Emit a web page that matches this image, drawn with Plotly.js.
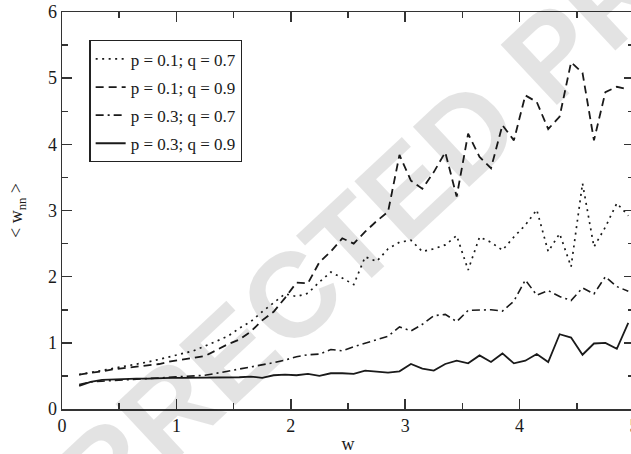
<!DOCTYPE html>
<html>
<head>
<meta charset="utf-8">
<script src="https://cdn.plot.ly/plotly-3.0.1.min.js"></script>
<style>
html,body{margin:0;padding:0;overflow:hidden;background:#fff;}
#chart{width:640px;height:454px;}
</style>
</head>
<body>
<div id="chart"></div>
<script>
// x positions of the samples
const w = [0.15,0.25,0.35,0.45,0.55,0.65,0.75,0.85,0.95,1.05,1.15,1.25,1.35,1.45,1.55,1.65,1.75,1.85,1.95,2.05,2.15,2.25,2.35,2.45,2.55,2.65,2.75,2.85,2.95,3.05,3.15,3.25,3.35,3.45,3.55,3.65,3.75,3.85,3.95,4.05,4.15,4.25,4.35,4.45,4.55,4.65,4.75,4.85,4.95];

// p = 0.1; q = 0.7 (dotted)
const p01q07 = [0.52,0.55,0.58,0.61,0.64,0.67,0.71,0.75,0.79,0.83,0.88,0.95,1.02,1.10,1.22,1.32,1.47,1.60,1.74,1.70,1.75,1.92,2.07,1.98,1.88,2.30,2.23,2.42,2.52,2.55,2.38,2.42,2.48,2.62,2.10,2.60,2.52,2.40,2.60,2.78,3.01,2.38,2.65,2.15,3.41,2.45,2.75,3.11,2.92];

// p = 0.1; q = 0.9 (dashed)
const p01q09 = [0.52,0.54,0.57,0.60,0.62,0.64,0.66,0.68,0.72,0.75,0.78,0.80,0.89,0.98,1.05,1.17,1.34,1.47,1.68,1.91,1.90,2.22,2.38,2.58,2.50,2.68,2.84,2.98,3.84,3.45,3.33,3.58,3.88,3.21,4.16,3.81,3.64,4.29,4.06,4.74,4.64,4.23,4.42,5.24,5.08,4.06,4.79,4.87,4.83];

// p = 0.3; q = 0.7 (dash-dot)
const p03q07 = [0.37,0.41,0.42,0.43,0.43,0.44,0.45,0.46,0.47,0.48,0.49,0.51,0.54,0.57,0.60,0.63,0.66,0.70,0.74,0.79,0.82,0.83,0.90,0.88,0.94,0.99,1.04,1.10,1.24,1.18,1.28,1.41,1.43,1.32,1.49,1.50,1.50,1.48,1.63,1.95,1.72,1.79,1.70,1.64,1.83,1.74,2.00,1.85,1.78];

// p = 0.3; q = 0.9 (solid)
const p03q09 = [0.35,0.41,0.44,0.45,0.46,0.46,0.46,0.47,0.47,0.47,0.47,0.47,0.47,0.48,0.48,0.49,0.47,0.51,0.52,0.51,0.53,0.50,0.54,0.54,0.53,0.58,0.57,0.55,0.57,0.68,0.61,0.58,0.68,0.73,0.69,0.81,0.71,0.84,0.69,0.73,0.83,0.71,1.13,1.08,0.82,0.99,1.00,0.91,1.30];

const seriesNames = ['p = 0.1; q = 0.7','p = 0.1; q = 0.9','p = 0.3; q = 0.7','p = 0.3; q = 0.9'];
const xTickVals = [0,1,2,3,4,5];
const yTickVals = [0,1,2,3,4,5,6];

const ink = '#1a1a1a';
const styles = [
  {dash:'2px,4.5px', width:1.7},
  {dash:'8px,5px', width:1.8},
  {dash:'8px,4px,2px,4px', width:1.6},
  {dash:'solid', width:1.8}
];
const ys = [p01q07,p01q09,p03q07,p03q09];

const traces = ys.map((y,i)=>({
  x: w, y: y, type:'scatter', mode:'lines', name: seriesNames[i],
  legendgroup:'g'+i,
  line:{color:ink, width:styles[i].width, dash:styles[i].dash}
}));

const serif = '"Liberation Serif", "Times New Roman", serif';
const tickFont = {family:serif, size:18, color:ink};
const legFont = {family:serif, size:17, color:ink};
const titleFont = {family:serif, size:18, color:ink};

const axisCommon = {
  showgrid:false, zeroline:false, showline:true, linecolor:'#333', linewidth:1.5,
  mirror:'ticks', ticks:'inside', ticklen:10, tickwidth:1.5, tickcolor:'#333',
  tickfont:tickFont
};

const layout = {
  width:640, height:454,
  margin:{l:62, r:6, t:12, b:45},
  paper_bgcolor:'#fff', plot_bgcolor:'#fff',
  font:legFont,
  showlegend:true,
  legend:{
    x:0.048, y:0.929, xanchor:'left', yanchor:'top',
    bgcolor:'#fff', bordercolor:'#222', borderwidth:1.2,
    font:legFont, itemwidth:30, tracegroupgap:3
  },
  xaxis:Object.assign({}, axisCommon, {
    range:[0,5], tickvals:xTickVals, ticktext:xTickVals.map(String),
    minor:{ticks:'inside', ticklen:6, tickwidth:1.5, tickcolor:'#333', dtick:0.5, tick0:0},
    title:{text:'w', font:titleFont, standoff:7}
  }),
  yaxis:Object.assign({}, axisCommon, {
    range:[0,6], tickvals:yTickVals, ticktext:yTickVals.map(String),
    minor:{ticks:'inside', ticklen:6, tickwidth:1.5, tickcolor:'#333', dtick:0.5, tick0:0},
    title:{text:'< w<sub>nn</sub> >', font:titleFont, standoff:20}
  }),
  annotations:[{
    text:'CORRECTED PROOF', xref:'paper', yref:'paper', x:0.57, y:0.515,
    showarrow:false, textangle:-43,
    font:{family:'"Liberation Sans", Arial, sans-serif', size:120, color:'rgba(0,0,0,0.11)', weight:'bold'}
  }]
};

Plotly.newPlot('chart', traces, layout, {staticPlot:true, displayModeBar:false});
</script>
</body>
</html>
